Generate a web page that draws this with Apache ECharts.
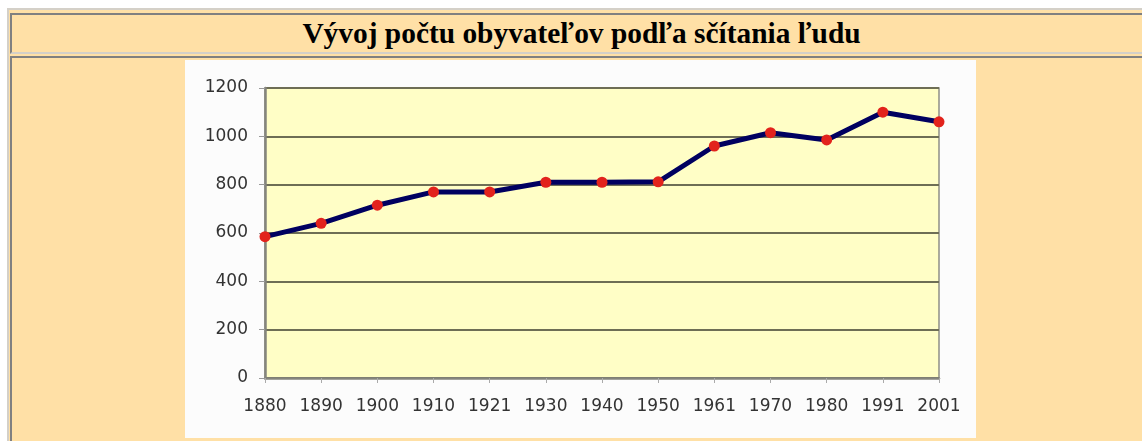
<!DOCTYPE html>
<html>
<head>
<meta charset="utf-8">
<script src="https://cdn.jsdelivr.net/npm/echarts@6/dist/echarts.min.js"></script>
<style>
  html, body { margin: 0; padding: 0; width: 100%; height: 100%; overflow: hidden; background: #ffffff; }
  .frame { position: absolute; left: 7px; top: 8px; width: 1300px; height: 460px;
           background: #ffe0a6; border-top: 2px solid #d4d0c8; border-left: 2px solid #d4d0c8; }
  .cell { position: absolute; background: #ffe0a6; border-top: 2px solid #808080; border-left: 2px solid #808080;
          border-bottom: 2px solid #d4d0c8; box-sizing: border-box; }
  #head { left: 10px; top: 13px; width: 1300px; height: 41px; padding-right: 159px;
          display: flex; align-items: center; justify-content: center;
          font-family: "Liberation Serif", serif; font-weight: bold; font-size: 29.4px; color: #000; }
  #body { left: 10px; top: 56px; width: 1300px; height: 420px; }
  #chart { position: absolute; left: 185px; top: 60px; width: 791px; height: 378px; background: #fcfcfc; }
</style>
</head>
<body>
<div class="frame"></div>
<div class="cell" id="head">Vývoj počtu obyvateľov podľa sčítania ľudu</div>
<div class="cell" id="body"></div>
<div id="chart"></div>
<script>
  // sčítanie ľudu - roky a počet obyvateľov
  var years = ['1880', '1890', '1900', '1910', '1921', '1930', '1940', '1950', '1961', '1970', '1980', '1991', '2001']
  var population = [585, 640, 715, 770, 770, 810, 810, 812, 960, 1015, 985, 1100, 1060]
  var yTicks = { min: 0, max: 1200, step: 200 }

  var chart = echarts.init(document.getElementById('chart'))
  var labelFont = { fontFamily: 'DejaVu Sans', fontSize: 17, color: '#333' }

  chart.setOption({
    animation: false,
    grid: {
      left: 80, top: 28, right: 37, bottom: 60,
      show: true,
      backgroundColor: '#fffec6',
      borderColor: '#8e8e86',
      borderWidth: 1.5
    },
    xAxis: {
      type: 'category',
      data: years,
      boundaryGap: false,
      axisLine: { lineStyle: { color: '#85857d', width: 2.5 } },
      axisTick: { show: true, interval: 0, length: 5, lineStyle: { color: '#aaa' } },
      axisLabel: Object.assign({ margin: 20, interval: 0 }, labelFont)
    },
    yAxis: {
      type: 'value',
      min: yTicks.min,
      max: yTicks.max,
      interval: yTicks.step,
      axisLine: { show: true, lineStyle: { color: '#85857d', width: 2.5 } },
      axisTick: { show: true, length: 6, lineStyle: { color: '#999' } },
      axisLabel: Object.assign({ margin: 17, formatter: function (v) { return String(v) } }, labelFont),
      splitLine: { lineStyle: { color: '#6e6e55', width: 1.8 } }
    },
    series: [{
      type: 'line',
      data: population,
      symbol: 'circle',
      symbolSize: 11,
      lineStyle: { color: '#000060', width: 5 },
      itemStyle: { color: '#e2231c' }
    }]
  })
</script>
</body>
</html>
